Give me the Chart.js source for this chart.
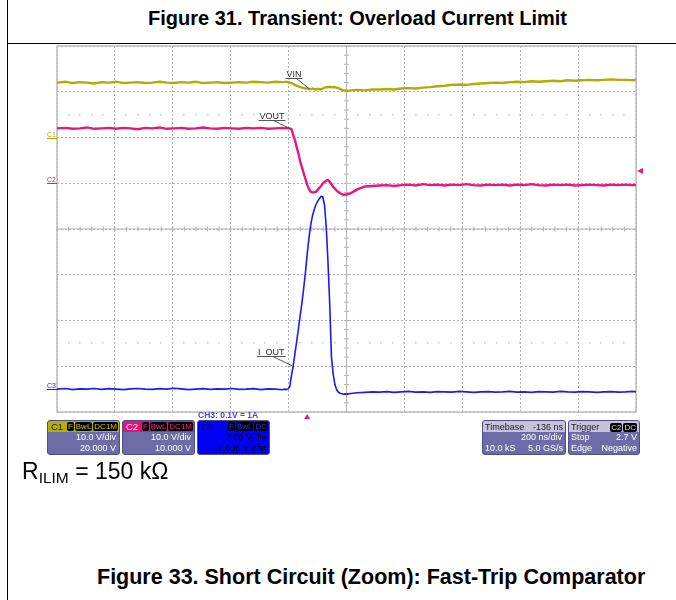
<!DOCTYPE html>
<html>
<head>
<meta charset="utf-8">
<script src="https://cdn.jsdelivr.net/npm/chart.js@4.4.0/dist/chart.umd.min.js"></script>
<style>
  body { margin: 0; width: 676px; height: 600px; background: #fff; position: relative; overflow: hidden;
         font-family: "Liberation Sans", Arial, sans-serif; }
  .rule { position: absolute; background: #000; }
  .txt { position: absolute; line-height: 1; white-space: nowrap; color: #000; }
  #scope { position: absolute; left: 0; top: 44px; }
  .ch { position: absolute; top: 420px; height: 35px; box-sizing: border-box; border: 1px solid #505088;
        border-radius: 3px; background: #6d6ca6; color: #fff; font-size: 9px; overflow: hidden; }
  .hd { display: flex; justify-content: flex-end; align-items: center; height: 11px; padding: 0 1px; }
  .hd .nm { margin-right: auto; padding-left: 2px; font-size: 9.5px; }
  .pl { background: #000; border-radius: 2px; padding: 0 1px; margin-left: 1px; font-size: 8px; line-height: 9px; }
  .r { text-align: right; padding-right: 3px; height: 11px; line-height: 11px; }
  .hd2 { display: flex; justify-content: space-between; align-items: center; height: 11px; padding: 0 2px;
         background: #c3c3da; color: #222; }
  .r2 { display: flex; justify-content: space-between; padding: 0 2px; height: 11px; line-height: 11px; }
</style>
</head>
<body>
<div class="rule" style="left:7px;top:0;width:1px;height:600px"></div>
<div class="rule" style="left:7px;top:43px;width:669px;height:1px"></div>

<div class="txt" style="left:148px;top:8px;font-size:20px;font-weight:bold">Figure 31. Transient: Overload Current Limit</div>

<canvas id="scope" width="676" height="384"></canvas>

<div class="txt" style="left:198px;top:411px;font-size:8.5px;font-weight:bold;color:#4a4ad6">CH3: 0.1V = 1A</div>

<div class="ch" style="left:47px;width:73px">
  <div class="hd" style="background:#b5b000"><span class="nm" style="color:#222">C1</span><span class="pl" style="color:#c9c400">F</span><span class="pl" style="color:#c9c400">BwL</span><span class="pl" style="color:#c9c400">DC1M</span></div>
  <div class="r">10.0 V/div</div>
  <div class="r">20.000 V</div>
</div>
<div class="ch" style="left:122px;width:73px">
  <div class="hd" style="background:#e6127c"><span class="nm" style="color:#fde">C2</span><span class="pl" style="color:#f0288c">F</span><span class="pl" style="color:#f0288c">BwL</span><span class="pl" style="color:#f0288c">DC1M</span></div>
  <div class="r">10.0 V/div</div>
  <div class="r">10.000 V</div>
</div>
<div class="ch" style="left:197px;width:73px;background:#0000f4;color:#000">
  <div class="hd"><span class="nm" style="color:#000060">C3</span><span class="pl" style="color:#2a2aff">F</span><span class="pl" style="color:#2a2aff">BwL</span><span class="pl" style="color:#2a2aff">DC</span></div>
  <div class="r">2.00 V/div</div>
  <div class="r">-7.038 V ofst</div>
</div>
<div class="ch" style="left:482px;width:84px">
  <div class="hd2"><span>Timebase</span><span>-136 ns</span></div>
  <div class="r">200 ns/div</div>
  <div class="r2"><span>10.0 kS</span><span>5.0 GS/s</span></div>
</div>
<div class="ch" style="left:568px;width:72px">
  <div class="hd2"><span>Trigger</span><span><span class="pl" style="color:#ddd">C2</span><span class="pl" style="color:#ddd">DC</span></span></div>
  <div class="r2"><span>Stop</span><span>2.7 V</span></div>
  <div class="r2"><span>Edge</span><span>Negative</span></div>
</div>

<div class="txt" style="left:22px;top:460px;font-size:23px">R<sub style="font-size:15.5px;vertical-align:-4px">ILIM</sub> = 150 kΩ</div>
<div class="txt" style="left:97px;top:567px;font-size:21.5px;font-weight:bold">Figure 33. Short Circuit (Zoom): Fast-Trip Comparator</div>

<script>
// sample times, ns (trigger at 0)
const timeNs = [
  -864, -835, -810, -785, -760, -735, -710, -685, -660, -635,
  -610, -585, -560, -535, -510, -485, -460, -435, -410, -385,
  -360, -335, -310, -285, -260, -235, -210, -185, -160, -135,
  -110, -85,
  -78, -72, -66, -60, -54, -48, -42, -36, -30, -24,
  -18, -12, -6, 0, 6, 12, 18, 24, 30, 36,
  42, 48, 54, 60, 66, 72, 78, 84, 90, 96,
  102, 108, 114, 120, 126, 132, 138,
  150, 175, 200, 225, 250, 275, 300, 325, 350, 375,
  400, 425, 450, 475, 500, 525, 550, 575, 600, 625,
  650, 675, 700, 725, 750, 775, 800, 825, 850, 875,
  900, 925, 950, 975, 1000, 1025, 1050, 1075, 1100, 1125,
  1136
];

// C1 = VIN, volts
const vinVolts = [
  12.0, 12.2, 11.9, 12.1, 12.0, 11.8, 12.1, 12.0, 12.2, 11.9,
  12.0, 12.1, 11.9, 12.0, 12.2, 12.0, 11.9, 12.1, 12.0, 12.2,
  11.9, 12.0, 12.1, 11.9, 12.0, 12.1, 12.0, 12.2, 12.1, 12.0,
  12.2, 12.1,
  12.1, 12.2, 12.1, 12.0, 11.9, 11.7, 11.5, 11.3, 11.2, 11.0,
  10.9, 10.8, 10.7, 10.7, 10.6, 10.6, 10.7, 10.6, 10.5, 10.6,
  10.6, 10.5, 10.7, 10.9, 11.0, 11.0, 11.1, 11.0, 11.0, 11.0,
  10.9, 10.8, 10.6, 10.4, 10.3, 10.3, 10.2,
  10.3, 10.4, 10.3, 10.5, 10.5, 10.6, 10.5, 10.7, 10.8, 10.7,
  10.9, 11.0, 11.2, 11.3, 11.5, 11.6, 11.5, 11.7, 11.8, 11.9,
  12.0, 11.9, 12.1, 12.2, 12.1, 12.3, 12.2, 12.3, 12.4, 12.3,
  12.5, 12.4, 12.5, 12.6, 12.5, 12.6, 12.7, 12.6, 12.6, 12.5,
  12.6
];

// C2 = VOUT, volts
const voutVolts = [
  12.0, 12.1, 11.9, 12.0, 12.2, 11.9, 12.0, 12.1, 11.9, 12.1,
  12.0, 11.8, 12.1, 12.0, 12.2, 11.9, 12.0, 12.1, 11.9, 12.0,
  12.2, 12.0, 11.9, 12.1, 12.0, 11.9, 12.1, 12.0, 12.1, 11.9,
  12.0, 12.1,
  12.0, 12.1, 12.0, 12.0, 11.8, 10.5, 9.4, 7.9, 6.5, 4.8,
  3.5, 2.2, 1.0, -0.3, -1.2, -1.8, -2.0, -2.0, -1.9, -1.5,
  -1.0, -0.6, -0.1, 0.3, 0.6, 0.7, 0.3, -0.2, -0.8, -1.2,
  -1.6, -1.9, -2.2, -2.4, -2.5, -2.5, -2.4,
  -2.2, -1.3, -0.7, -0.6, -0.5, -0.4, -0.6, -0.4, -0.3, -0.5,
  -0.2, -0.4, -0.3, -0.5, -0.3, -0.4, -0.2, -0.4, -0.5, -0.3,
  -0.4, -0.3, -0.5, -0.3, -0.4, -0.2, -0.4, -0.5, -0.3, -0.4,
  -0.3, -0.5, -0.4, -0.3, -0.4, -0.5, -0.3, -0.4, -0.3, -0.4,
  -0.4
];

// C3 = I_OUT, amps (0.1 V = 1 A)
const ioutAmps = [
  0.0, 0.3, -0.2, 0.1, 0.0, 0.3, -0.1, 0.2, 0.0, -0.2,
  0.1, 0.3, 0.0, -0.1, 0.2, 0.0, 0.4, 0.1, -0.2, 0.0,
  0.2, -0.1, 0.1, 0.0, 0.3, -0.1, 0.0, 0.2, -0.2, 0.1,
  0.0, -0.3,
  0.0, -0.2, 0.1, 1.0, 6.0, 10.3, 15.6, 20.9, 26.5, 32.1,
  37.6, 43.9, 50.8, 58.8, 65.8, 71.6, 75.5, 78.3, 80.6, 82.1,
  83.2, 84.2, 84.0, 80.5, 71.0, 55.7, 37.2, 14.1, 6.6, 2.0,
  -0.3, -1.3, -1.8, -2.0, -2.2, -2.1, -2.2,
  -1.9, -1.6, -1.4, -1.2, -1.3, -1.1, -1.4, -1.2, -1.0, -1.3,
  -1.2, -1.4, -1.1, -1.2, -1.3, -1.0, -1.2, -1.4, -1.2, -1.1,
  -1.3, -1.2, -1.0, -1.3, -1.2, -1.4, -1.1, -1.2, -1.3, -1.0,
  -1.2, -1.3, -1.1, -1.2, -1.4, -1.2, -1.1, -1.3, -1.2, -1.0,
  -1.2
];

// scope settings
const delayNs = 136;       // screen centre
const nsPerDiv = 200;
const triggerLevel = 2.7;  // on C2
const c1Color = '#b2ac00';
const c2Color = '#ea1580';
const c3Color = '#1b1bf2';

const xMin = delayNs - 5 * nsPerDiv;
const xMax = delayNs + 5 * nsPerDiv;

function pts(vals) {
  return timeNs.map((t, i) => ({ x: t, y: vals[i] }));
}

const traceLabels = [
  { text: 'VIN',   axis: 'yC1', t: 8,   v: 10.6, dx: -23, dy: -11.5, lead: -13 },
  { text: 'VOUT',  axis: 'yC2', t: -54, v: 11.8, dx: -32, dy: -9.5,  lead: -18 },
  { text: 'I_OUT', axis: 'yC3', t: -49, v: 10.0, dx: -35, dy: -10.5, lead: -20 },
];

const scopeDecor = {
  id: 'scopeDecor',
  beforeDatasetsDraw(chart) {
    const { ctx, chartArea: a } = chart;
    const sx = chart.scales.x, sy = chart.scales.yC1;
    const cx = sx.getPixelForValue(delayNs);
    const cy = sy.getPixelForValue((sy.min + sy.max) / 2);
    ctx.save();
    // centre cross with 1/5 div ticks
    ctx.strokeStyle = '#b4b4b4';
    ctx.lineWidth = 1;
    ctx.beginPath();
    ctx.moveTo(a.left, cy); ctx.lineTo(a.right, cy);
    ctx.moveTo(cx, a.top); ctx.lineTo(cx, a.bottom);
    for (let t = sx.min; t <= sx.max + 1; t += nsPerDiv / 5) {
      const p = sx.getPixelForValue(t);
      ctx.moveTo(p, cy - 2.5); ctx.lineTo(p, cy + 2.5);
    }
    for (let v = sy.min; v <= sy.max; v += 2) {
      const p = sy.getPixelForValue(v);
      ctx.moveTo(cx - 2.5, p); ctx.lineTo(cx + 2.5, p);
    }
    ctx.stroke();
    // sparse dotted rows at +/-2.5 div
    ctx.fillStyle = '#c4c4c4';
    [5, -45].forEach(v => {
      const p = Math.round(sy.getPixelForValue(v));
      for (let t = sx.min + nsPerDiv / 5; t < sx.max; t += nsPerDiv / 5) {
        ctx.fillRect(Math.round(sx.getPixelForValue(t)) - 1, p - 1, 1.5, 1.5);
      }
    });
    // frame
    ctx.strokeStyle = '#bcbcbc';
    ctx.lineWidth = 1.5;
    ctx.strokeRect(a.left, a.top, a.right - a.left, a.bottom - a.top);
    ctx.restore();
  },
  afterDatasetsDraw(chart) {
    const { ctx, chartArea: a } = chart;
    const sx = chart.scales.x;
    ctx.save();

    // channel ground markers
    ctx.font = '7px "Liberation Sans", Arial';
    ctx.lineWidth = 1;
    [['C1', 'yC1', c1Color], ['C2', 'yC2', c2Color], ['C3', 'yC3', c3Color]].forEach(([name, id, col]) => {
      const p = Math.round(chart.scales[id].getPixelForValue(0)) + 0.5;
      ctx.fillStyle = col;
      ctx.strokeStyle = col;
      ctx.fillText(name, a.left - 10, p - 2);
      ctx.beginPath(); ctx.moveTo(a.left - 10, p); ctx.lineTo(a.left, p); ctx.stroke();
    });

    // trace names with leader lines
    ctx.font = '9px "Liberation Sans", Arial';
    traceLabels.forEach(l => {
      const ax = sx.getPixelForValue(l.t);
      const ay = chart.scales[l.axis].getPixelForValue(l.v);
      const tx = ax + l.dx, uy = Math.round(ay + l.dy) + 0.5;
      const w = ctx.measureText(l.text).width;
      ctx.fillStyle = '#2a2a2a';
      ctx.fillText(l.text, tx, uy - 2);
      ctx.strokeStyle = '#555';
      ctx.lineWidth = 1;
      ctx.beginPath();
      ctx.moveTo(tx - 1, uy); ctx.lineTo(tx + w + 1, uy);
      ctx.moveTo(ax + l.lead, uy); ctx.lineTo(ax, ay);
      ctx.stroke();
    });

    // trigger position and level
    ctx.fillStyle = c2Color;
    const tp = sx.getPixelForValue(0);
    ctx.beginPath();
    ctx.moveTo(tp, a.bottom + 2); ctx.lineTo(tp - 3, a.bottom + 7); ctx.lineTo(tp + 3, a.bottom + 7);
    ctx.fill();
    const tl = chart.scales.yC2.getPixelForValue(triggerLevel);
    ctx.beginPath();
    ctx.moveTo(a.right + 1, tl); ctx.lineTo(a.right + 7, tl - 3); ctx.lineTo(a.right + 7, tl + 3);
    ctx.fill();
    ctx.restore();
  }
};

const gridOpts = { color: '#b0b0b0', lineWidth: 1, drawTicks: false };

new Chart(document.getElementById('scope'), {
  type: 'line',
  data: {
    datasets: [
      { label: 'I_OUT', data: pts(ioutAmps), yAxisID: 'yC3', borderColor: c3Color, borderWidth: 1.6 },
      { label: 'VOUT', data: pts(voutVolts), yAxisID: 'yC2', borderColor: c2Color, borderWidth: 2.4 },
      { label: 'VIN', data: pts(vinVolts), yAxisID: 'yC1', borderColor: c1Color, borderWidth: 2.4 },
    ]
  },
  options: {
    responsive: false,
    animation: false,
    layout: { padding: { left: 57, right: 40, top: 2, bottom: 16 } },
    elements: { point: { radius: 0 }, line: { tension: 0 } },
    plugins: { legend: { display: false }, tooltip: { enabled: false } },
    scales: {
      x: {
        type: 'linear', min: xMin, max: xMax,
        afterBuildTicks: s => {
          s.ticks = [];
          for (let k = 0; k <= 10; k++) s.ticks.push({ value: xMin + k * nsPerDiv });
        },
        ticks: { display: false },
        grid: gridOpts,
        border: { display: false, dash: [2, 2] }
      },
      // 10 V/div, +20 V offset
      yC1: {
        position: 'left', min: -60, max: 20,
        ticks: { display: false, stepSize: 10 },
        grid: gridOpts,
        border: { display: false, dash: [2, 2] }
      },
      // 10 V/div, +10 V offset
      yC2: { display: false, min: -50, max: 30 },
      // 20 A/div
      yC3: { display: false, min: -10, max: 150 }
    }
  },
  plugins: [scopeDecor]
});
</script>
</body>
</html>
